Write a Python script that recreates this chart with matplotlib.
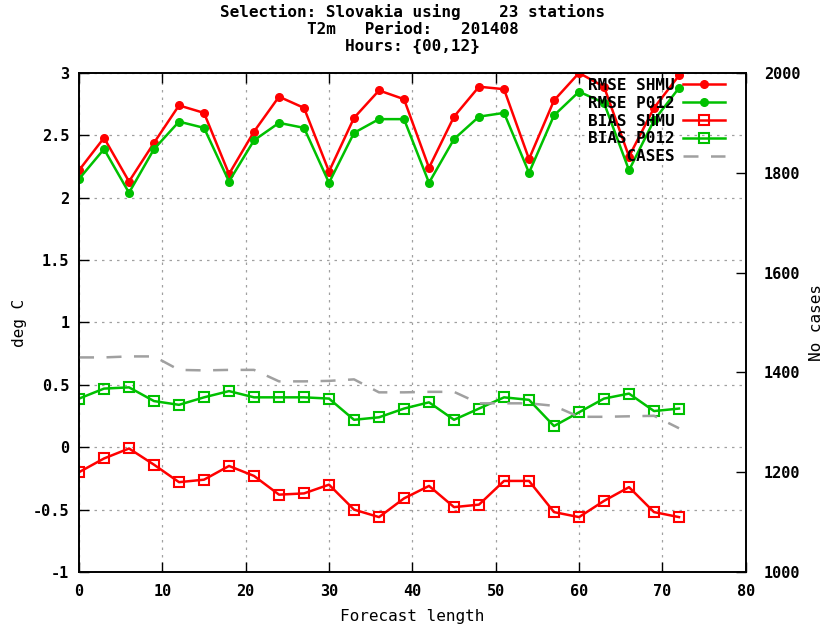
import matplotlib
matplotlib.use('Agg')
from matplotlib import pyplot as plt
import numpy as np

plt.rcParams['font.family'] = ['DejaVu Sans Mono']
plt.rcParams['font.weight'] = 'bold'

steps = np.arange(0, 73, 3)

rmse_shmu = [2.22, 2.48, 2.13, 2.44, 2.74, 2.68, 2.19, 2.53, 2.81, 2.72, 2.21, 2.64, 2.86,
             2.79, 2.24, 2.65, 2.89, 2.87, 2.31, 2.78, 3.00, 2.89, 2.33, 2.72, 2.98]
rmse_p012 = [2.15, 2.39, 2.04, 2.39, 2.61, 2.56, 2.13, 2.46, 2.60, 2.56, 2.12, 2.52, 2.63,
             2.63, 2.12, 2.47, 2.65, 2.68, 2.20, 2.66, 2.85, 2.76, 2.22, 2.62, 2.88]
bias_shmu = [-0.20, -0.09, -0.01, -0.14, -0.28, -0.26, -0.15, -0.23, -0.38, -0.37, -0.30, -0.50, -0.56,
             -0.41, -0.31, -0.48, -0.46, -0.27, -0.27, -0.52, -0.56, -0.43, -0.32, -0.52, -0.56]
bias_p012 = [0.39, 0.47, 0.48, 0.37, 0.34, 0.40, 0.45, 0.40, 0.40, 0.40, 0.39, 0.22, 0.24,
             0.31, 0.36, 0.22, 0.31, 0.40, 0.38, 0.17, 0.28, 0.39, 0.43, 0.29, 0.31]
cases = [1430, 1430, 1432, 1432, 1405, 1404, 1405, 1405, 1382, 1382, 1383, 1386, 1360,
         1360, 1361, 1361, 1338, 1338, 1338, 1333, 1311, 1311, 1312, 1313, 1288]

red = '#ff0000'
green = '#00c000'

fig = plt.figure(figsize=(8.37, 6.34), dpi=100)
ax = fig.add_axes([0.0944, 0.0978, 0.7965, 0.7871])
ax2 = ax.twinx()

h1, = ax.plot(steps, rmse_shmu, color=red, lw=1.8, marker='o', ms=5.5, label='RMSE SHMU')
h2, = ax.plot(steps, rmse_p012, color=green, lw=1.8, marker='o', ms=5.5, label='RMSE P012')
h3, = ax.plot(steps, bias_shmu, color=red, lw=1.8, marker='s', ms=6.5, mfc='none', mew=1.5,
              label='BIAS SHMU')
h4, = ax.plot(steps, bias_p012, color=green, lw=1.8, marker='s', ms=6.5, mfc='none', mew=1.5,
              label='BIAS P012')
h5, = ax2.plot(steps, cases, color='#a0a0a0', lw=1.8, dashes=(6, 5), label='    CASES')

ax.set_xlim(0, 80)
ax.set_ylim(-1, 3)
ax2.set_ylim(1000, 2000)
ax.set_xticks(np.arange(0, 81, 10))
ax.set_yticks(np.arange(-1, 3.01, 0.5))
ax.set_yticklabels(['-1', '-0.5', '0', '0.5', '1', '1.5', '2', '2.5', '3'])
ax2.set_yticks(np.arange(1000, 2001, 200))

ax.grid(True, linestyle=(0, (2, 4)), color='#a0a0a0', lw=0.9)
ax.tick_params(direction='in', length=7, width=1, labelsize=11, top=True, pad=7)
ax.tick_params(axis='x', pad=9)
ax2.tick_params(direction='in', length=7, width=1, labelsize=11, pad=13)
for a in (ax, ax2):
    for s in a.spines.values():
        s.set_linewidth(1.2)

ax.set_xlabel('Forecast length', fontsize=11.5, labelpad=7)
ax.set_ylabel('deg C', fontsize=11.5, labelpad=4)
ax2.set_ylabel('No cases', fontsize=11.5, labelpad=6)

fig.text(0.4928, 0.981, 'Selection: Slovakia using    23 stations', ha='center', va='center',
         fontsize=11.5)
fig.text(0.4928, 0.954, 'T2m   Period:   201408', ha='center', va='center', fontsize=11.5)
fig.text(0.4928, 0.927, 'Hours: {00,12}', ha='center', va='center', fontsize=11.5)

leg = ax2.legend(handles=[h1, h2, h3, h4, h5], loc='upper right', frameon=False,
                 markerfirst=False, fontsize=11.5, handlelength=2.6, labelspacing=0.18,
                 borderaxespad=0.0, handletextpad=0.5, bbox_to_anchor=(0.978, 1.003))

fig.savefig('out.png', dpi=100)
